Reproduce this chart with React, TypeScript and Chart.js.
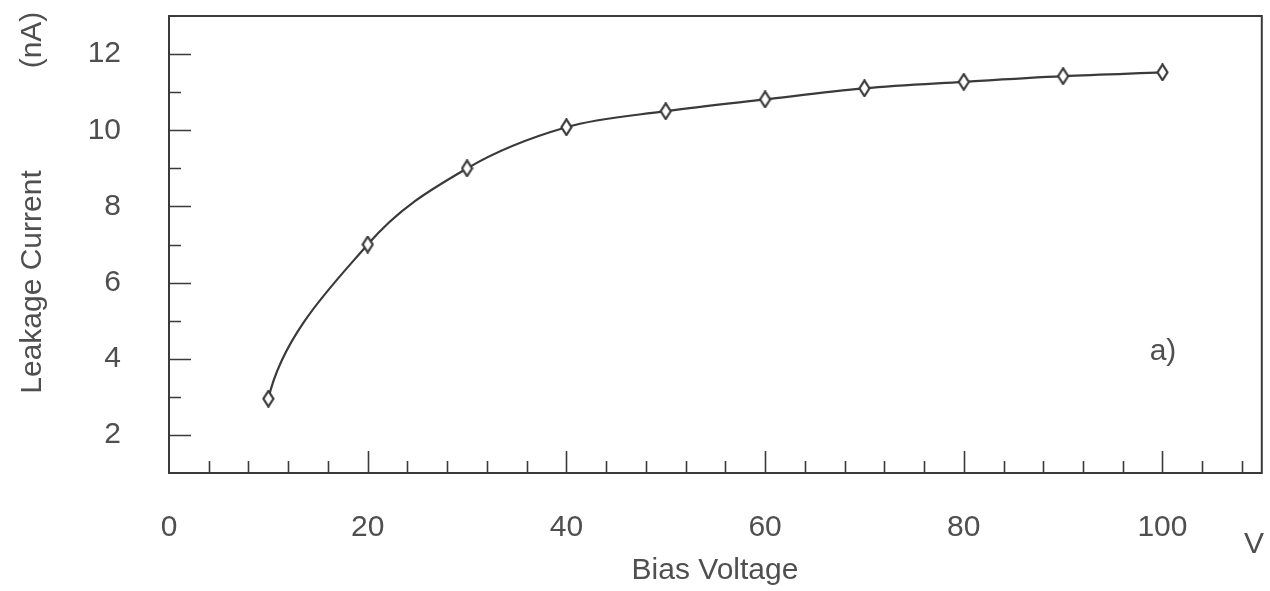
import React, { useEffect, useRef } from "react";
import { Chart, registerables } from "chart.js";

Chart.register(...registerables);

// ---- data ----
const biasVoltage = [10, 20, 30, 40, 50, 60, 70, 80, 90, 100];
const leakageCurrent = [2.95, 7.0, 9.0, 10.08, 10.5, 10.81, 11.1, 11.27, 11.42, 11.52];

// ---- axes ----
const xTickLabels = [0, 20, 40, 60, 80, 100];
const yTickLabels = [2, 4, 6, 8, 10, 12];
const xMinorTicks = [4, 8, 12, 16, 24, 28, 32, 36, 44, 48, 52, 56, 64, 68, 72, 76, 84, 88, 92, 96, 104, 108];
const yMinorTicks = [3, 5, 7, 9, 11];
const X_MIN = 0;
const X_MAX = 110;
const Y_MIN = 1;
const Y_MAX = 13;

const xTitle = "Bias Voltage";
const xUnit = "V";
const yTitle = "Leakage Current";
const yUnit = "(nA)";
const panelLabel = "a)";

const INK = "#3a3a3a";
const TEXT = "#4f4f4f";
const FONT_FAMILY = '"Liberation Sans", Arial, Helvetica, sans-serif';
const FONT_SIZE = 30;

function makeDiamond(): HTMLCanvasElement {
  const c = document.createElement("canvas");
  const w = 13;
  const h = 18;
  c.width = w;
  c.height = h;
  const g = c.getContext("2d")!;
  g.beginPath();
  g.moveTo(w / 2, 1.2);
  g.lineTo(w - 1.5, h / 2);
  g.lineTo(w / 2, h - 1.2);
  g.lineTo(1.5, h / 2);
  g.closePath();
  g.fillStyle = "#ffffff";
  g.fill();
  g.strokeStyle = INK;
  g.lineWidth = 2.2;
  g.stroke();
  return c;
}

// The reference curve is a smooth fit that leaves the first point steeply;
// bend the first spline segment's departure handle accordingly.
const curveStartPlugin = {
  id: "curveStart",
  beforeDatasetsDraw(chart: any) {
    const meta = chart.getDatasetMeta(0);
    const pts = meta.data;
    if (!pts || pts.length < 2) return;
    const p0 = pts[0];
    const p1 = pts[1];
    p0.cp2x = p0.x + (p1.x - p0.x) * 0.15;
    p0.cp2y = p0.y + (p1.y - p0.y) * 0.42;
  },
};

const framePlugin = {
  id: "framePlugin",
  afterDraw(chart: any) {
    const { ctx, chartArea } = chart;
    const { left, top, right, bottom } = chartArea;
    const xs = chart.scales.x;
    const ys = chart.scales.y;
    ctx.save();
    // frame
    ctx.strokeStyle = INK;
    ctx.lineWidth = 2;
    ctx.strokeRect(left, top, right - left, bottom - top);
    // inward ticks
    ctx.lineWidth = 1.6;
    const MAJOR = 22;
    const MINOR = 12;
    ctx.beginPath();
    xTickLabels.forEach((v) => {
      if (v <= X_MIN || v >= X_MAX) return;
      const px = Math.round(xs.getPixelForValue(v)) + 0.5;
      ctx.moveTo(px, bottom);
      ctx.lineTo(px, bottom - MAJOR);
    });
    xMinorTicks.forEach((v) => {
      const px = Math.round(xs.getPixelForValue(v)) + 0.5;
      ctx.moveTo(px, bottom);
      ctx.lineTo(px, bottom - MINOR);
    });
    yTickLabels.forEach((v) => {
      const py = Math.round(ys.getPixelForValue(v)) + 0.5;
      ctx.moveTo(left, py);
      ctx.lineTo(left + MAJOR, py);
    });
    yMinorTicks.forEach((v) => {
      const py = Math.round(ys.getPixelForValue(v)) + 0.5;
      ctx.moveTo(left, py);
      ctx.lineTo(left + MINOR, py);
    });
    ctx.stroke();

    // texts
    ctx.fillStyle = TEXT;
    ctx.font = `${FONT_SIZE}px ${FONT_FAMILY}`;
    ctx.textAlign = "center";
    ctx.textBaseline = "middle";
    ctx.fillText(xTitle, 715, 571);
    ctx.fillText(xUnit, 1254, 545);
    ctx.fillText(panelLabel, 1163, 352);

    ctx.textBaseline = "alphabetic";
    ctx.save();
    ctx.translate(41, 282);
    ctx.rotate(-Math.PI / 2);
    ctx.fillText(yTitle, 0, 0);
    ctx.restore();
    ctx.save();
    ctx.translate(41, 40);
    ctx.rotate(-Math.PI / 2);
    ctx.fillText(yUnit, 0, 0);
    ctx.restore();

    ctx.restore();
  },
};

export default function App() {
  const ref = useRef<HTMLCanvasElement | null>(null);

  useEffect(() => {
    const canvas = ref.current;
    if (!canvas) return;
    const diamond = makeDiamond();
    const font = { family: FONT_FAMILY, size: FONT_SIZE };
    const chart = new Chart(canvas, {
      type: "line",
      data: {
        datasets: [
          {
            label: "Leakage current",
            data: biasVoltage.map((v, i) => ({ x: v, y: leakageCurrent[i] })),
            borderColor: INK,
            borderWidth: 2.2,
            cubicInterpolationMode: "monotone",
            pointStyle: diamond as any,
            pointRadius: 6,
            fill: false,
          },
        ],
      },
      options: {
        animation: false,
        responsive: false,
        devicePixelRatio: 1,
        layout: { padding: { top: 16, right: 7, left: 0, bottom: 0 } },
        plugins: {
          legend: { display: false },
          tooltip: { enabled: false },
        },
        scales: {
          x: {
            type: "linear",
            min: X_MIN,
            max: X_MAX,
            grid: { display: false, drawTicks: false },
            border: { display: false },
            ticks: { padding: 37, color: TEXT, font, maxRotation: 0 },
            afterBuildTicks: (s: any) => {
              s.ticks = xTickLabels.map((v) => ({ value: v }));
            },
            afterFit: (s: any) => {
              s.height = 118;
              s.paddingLeft = 0;
              s.paddingRight = 0;
            },
          },
          y: {
            type: "linear",
            min: Y_MIN,
            max: Y_MAX,
            grid: { display: false, drawTicks: false },
            border: { display: false },
            ticks: { padding: 48, color: TEXT, font },
            afterBuildTicks: (s: any) => {
              s.ticks = yTickLabels.map((v) => ({ value: v }));
            },
            afterFit: (s: any) => {
              s.width = 169;
              s.paddingTop = 0;
              s.paddingBottom = 0;
            },
          },
        },
      },
      plugins: [curveStartPlugin, framePlugin],
    } as any);
    return () => chart.destroy();
  }, []);

  return (
    <div style={{ position: "fixed", left: 0, top: 0, width: 1270, height: 591, background: "#fff" }}>
      <canvas ref={ref} width={1270} height={591} style={{ display: "block", width: 1270, height: 591 }} />
    </div>
  );
}
